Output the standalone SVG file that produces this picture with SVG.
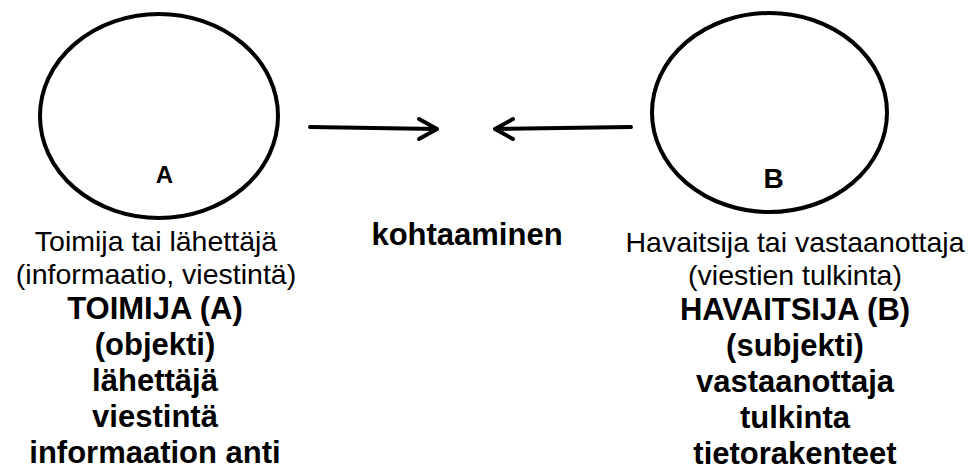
<svg xmlns="http://www.w3.org/2000/svg" width="976" height="471" viewBox="0 0 976 471">
<style>
.c{fill:none;stroke:#000;stroke-width:4}
.ln{fill:none;stroke:#000;stroke-width:4;stroke-linecap:round;stroke-linejoin:round}
text{font-family:"Liberation Sans",Arial,sans-serif;fill:#000;text-anchor:middle}
.r{font-size:28.5px}
.b{font-size:31px;font-weight:bold}
</style>
<rect width="976" height="471" fill="#fff"/>
<g id="nodeA">
<ellipse class="c" cx="159" cy="116" rx="119" ry="102"/>
<text x="164.5" y="183" style="font-size:24px;font-weight:bold">A</text>
</g>
<g id="nodeB">
<ellipse class="c" cx="769.5" cy="112.5" rx="117.5" ry="99.5"/>
<text x="773.5" y="188" style="font-size:28px;font-weight:bold">B</text>
</g>
<g id="connectors">
<path class="ln" d="M310 127 L437 129 M419 119 L437 129 L419 139"/>
<path class="ln" d="M631 127 L495 129 M513 119 L495 129 L513 139"/>
</g>
<g id="center">
<text class="b" x="467" y="245">kohtaaminen</text>
</g>
<g id="textA">
<text class="r" x="156" y="251">Toimija tai lähettäjä</text>
<text class="r" x="156" y="284">(informaatio, viestintä)</text>
<text class="b" x="155" y="319">TOIMIJA (A)</text>
<text class="b" x="155" y="355">(objekti)</text>
<text class="b" x="155" y="391">lähettäjä</text>
<text class="b" x="155" y="427">viestintä</text>
<text class="b" x="155" y="463">informaation anti</text>
</g>
<g id="textB">
<text class="r" x="795" y="252">Havaitsija tai vastaanottaja</text>
<text class="r" x="795" y="285">(viestien tulkinta)</text>
<text class="b" x="795" y="320">HAVAITSIJA (B)</text>
<text class="b" x="795" y="356">(subjekti)</text>
<text class="b" x="795" y="392">vastaanottaja</text>
<text class="b" x="795" y="428">tulkinta</text>
<text class="b" x="795" y="463.5">tietorakenteet</text>
</g>
</svg>
